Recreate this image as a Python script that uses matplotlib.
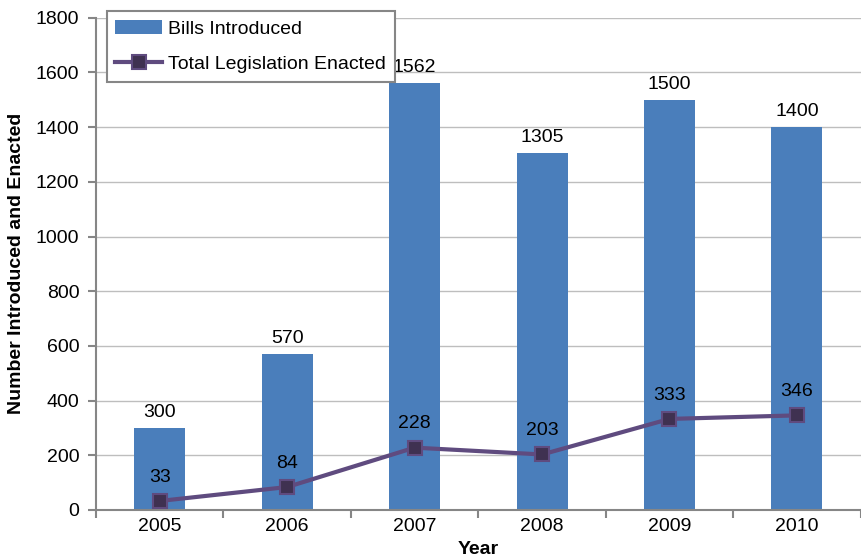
import matplotlib.pyplot as plt
import numpy as np

plt.rcParams['font.family'] = ['Liberation Sans', 'DejaVu Sans']

# --- DADOS ---
anos = ['2005', '2006', '2007', '2008', '2009', '2010']
projetos_apresentados = [300, 570, 1562, 1305, 1500, 1400]
legislacao_aprovada = [33, 84, 228, 203, 333, 346]

COR_BARRA = '#4A7EBB'
COR_LINHA = '#5F4B7F'
COR_MARCADOR = '#3F3151'
COR_EIXO = '#868686'
FONTE = 14

fig = plt.figure(figsize=(8.62, 5.60), dpi=100)
ax = fig.add_axes([0.1114, 0.0893, 0.887, 0.879])

x = np.arange(len(anos))
barras = ax.bar(x, projetos_apresentados, width=0.4, color=COR_BARRA,
                label='Bills Introduced', zorder=2)
linha, = ax.plot(x, legislacao_aprovada, color=COR_LINHA, lw=3, marker='s',
                 markersize=10, markerfacecolor=COR_MARCADOR,
                 markeredgecolor=COR_LINHA, markeredgewidth=1.5,
                 label='Total Legislation Enacted', zorder=3)

# rótulos dos valores
for xi, v in zip(x, projetos_apresentados):
    ax.annotate(str(v), (xi, v), xytext=(0, 5), textcoords='offset points',
                ha='center', va='bottom', fontsize=FONTE)
for xi, v in zip(x, legislacao_aprovada):
    ax.annotate(str(v), (xi, v), xytext=(0, 11), textcoords='offset points',
                ha='center', va='bottom', fontsize=FONTE)

ax.set_xlim(-0.5, len(anos) - 0.5)
ax.set_ylim(0, 1800)
ax.set_yticks(range(0, 1801, 200))
ax.set_xticks(x)
ax.set_xticklabels(anos)
ax.set_xticks(np.arange(-0.5, len(anos)), minor=True)
ax.tick_params(axis='x', which='major', length=0, labelsize=FONTE, pad=6)
ax.tick_params(axis='x', which='minor', length=6, color=COR_EIXO, width=1.5)
ax.tick_params(axis='y', length=6, color=COR_EIXO, width=1.5,
               labelsize=FONTE, pad=6)

ax.grid(axis='y', color='#BEBEBE', lw=1, zorder=0)
for lado in ['top', 'right']:
    ax.spines[lado].set_visible(False)
for lado in ['left', 'bottom']:
    ax.spines[lado].set_color(COR_EIXO)
    ax.spines[lado].set_linewidth(1.5)

ax.set_xlabel('Year', fontsize=FONTE, fontweight='bold', labelpad=4)
ax.set_ylabel('Number Introduced and Enacted', fontsize=FONTE,
              fontweight='bold', labelpad=8)

leg = ax.legend(handles=[barras, linha], loc='upper left',
                bbox_to_anchor=(0.014, 1.013), fontsize=FONTE,
                fancybox=False, edgecolor=COR_EIXO, framealpha=1,
                handlelength=2.4, handletextpad=0.3, borderpad=0.45,
                labelspacing=0.9, borderaxespad=0)
leg.get_frame().set_linewidth(1.5)

fig.savefig('out.png', dpi=100)
